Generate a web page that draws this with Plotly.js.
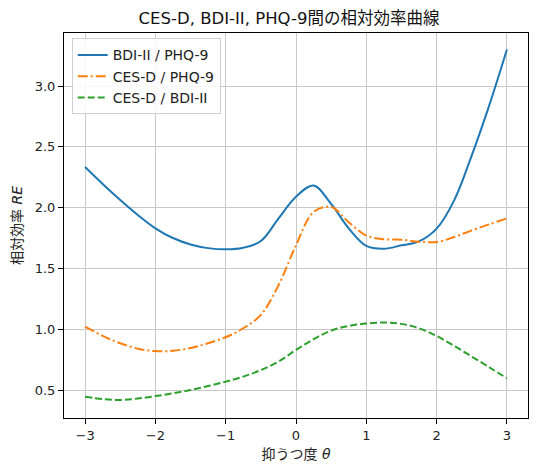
<!DOCTYPE html>
<html>
<head>
<meta charset="utf-8">
<script src="https://cdn.plot.ly/plotly-3.0.1.min.js"></script>
<style>html,body{margin:0;padding:0;background:#fff;}#chart{width:538px;height:473px;}</style>
</head>
<body>
<div id="chart"></div>
<script>
// Data
const seriesNames = ["BDI-II / PHQ-9", "CES-D / PHQ-9", "CES-D / BDI-II"];

const theta = [-3, -2.75, -2.5, -2.25, -2, -1.75, -1.5, -1.25, -1, -0.75, -0.5, -0.25,
               0, 0.25, 0.5, 0.75, 1, 1.25, 1.5, 1.75, 2, 2.25, 2.5, 2.75, 3];

const reBdiPhq = [2.334, 2.195, 2.063, 1.940, 1.830, 1.750, 1.697, 1.667, 1.657, 1.670, 1.725, 1.910,
                  2.090, 2.182, 2.030, 1.830, 1.685, 1.662, 1.690, 1.722, 1.827, 2.060, 2.430, 2.843, 3.300];

const reCesPhq = [1.022, 0.945, 0.885, 0.840, 0.820, 0.823, 0.846, 0.885, 0.934, 1.008, 1.118, 1.360,
                  1.690, 1.964, 2.005, 1.880, 1.770, 1.740, 1.736, 1.720, 1.717, 1.758, 1.813, 1.863, 1.912];

const reCesBdi = [0.445, 0.426, 0.418, 0.430, 0.450, 0.473, 0.500, 0.533, 0.569, 0.610, 0.665, 0.733,
                  0.830, 0.918, 0.989, 1.027, 1.047, 1.055, 1.044, 1.008, 0.945, 0.863, 0.775, 0.687, 0.596];

const xTicks = [-3, -2, -1, 0, 1, 2, 3];
const yTicks = [0.5, 1.0, 1.5, 2.0, 2.5, 3.0];

const FONT = '"DejaVu Sans", "Noto Sans CJK JP", sans-serif';

const traces = [
  {x: theta, y: reBdiPhq, name: seriesNames[0], mode: 'lines',
   line: {color: '#1f77b4', width: 2, shape: 'spline', smoothing: 1}},
  {x: theta, y: reCesPhq, name: seriesNames[1], mode: 'lines',
   line: {color: '#ff7f0e', width: 2, shape: 'spline', smoothing: 1, dash: '10px,3px,2px,3px'}},
  {x: theta, y: reCesBdi, name: seriesNames[2], mode: 'lines',
   line: {color: '#2ca02c', width: 2, shape: 'spline', smoothing: 1, dash: '7px,3px'}}
];

const axisCommon = {
  showline: true, linecolor: '#000', linewidth: 1, mirror: true,
  ticks: 'outside', ticklen: 5, tickcolor: '#000', tickwidth: 1,
  showgrid: true, gridcolor: '#c8c8c8', gridwidth: 1,
  zeroline: false,
  tickfont: {family: FONT, size: 13, color: '#222'}
};

const layout = {
  width: 538, height: 473,
  margin: {l: 64, r: 10, t: 33, b: 55},
  paper_bgcolor: '#fff', plot_bgcolor: '#fff',
  font: {family: FONT, color: '#222'},
  title: {text: 'CES-D, BDI-II, PHQ-9間の相対効率曲線', font: {family: FONT, size: 16.5, color: '#111'},
          x: 0.485, xref: 'paper', xanchor: 'center', y: 0.961, yref: 'container', yanchor: 'middle'},
  xaxis: Object.assign({}, axisCommon, {
    range: [-3.3, 3.3], tickvals: xTicks,
    title: {text: '抑うつ度 <i>θ</i>', font: {family: FONT, size: 14, color: '#222'}, standoff: 7}
  }),
  yaxis: Object.assign({}, axisCommon, {
    range: [0.27, 3.436], tickvals: yTicks, tickformat: '.1f',
    title: {text: '相対効率 <i>RE</i>', font: {family: FONT, size: 14, color: '#222'}, standoff: 8}
  }),
  legend: {
    x: 0.0166, y: 0.986, xanchor: 'left', yanchor: 'top',
    bgcolor: 'rgba(255,255,255,0.85)', bordercolor: '#d0d0d0', borderwidth: 1,
    font: {family: FONT, size: 14, color: '#222'}, tracegroupgap: 0
  },
  showlegend: true
};

Plotly.newPlot('chart', traces, layout, {displayModeBar: false, staticPlot: true});
</script>
</body>
</html>
